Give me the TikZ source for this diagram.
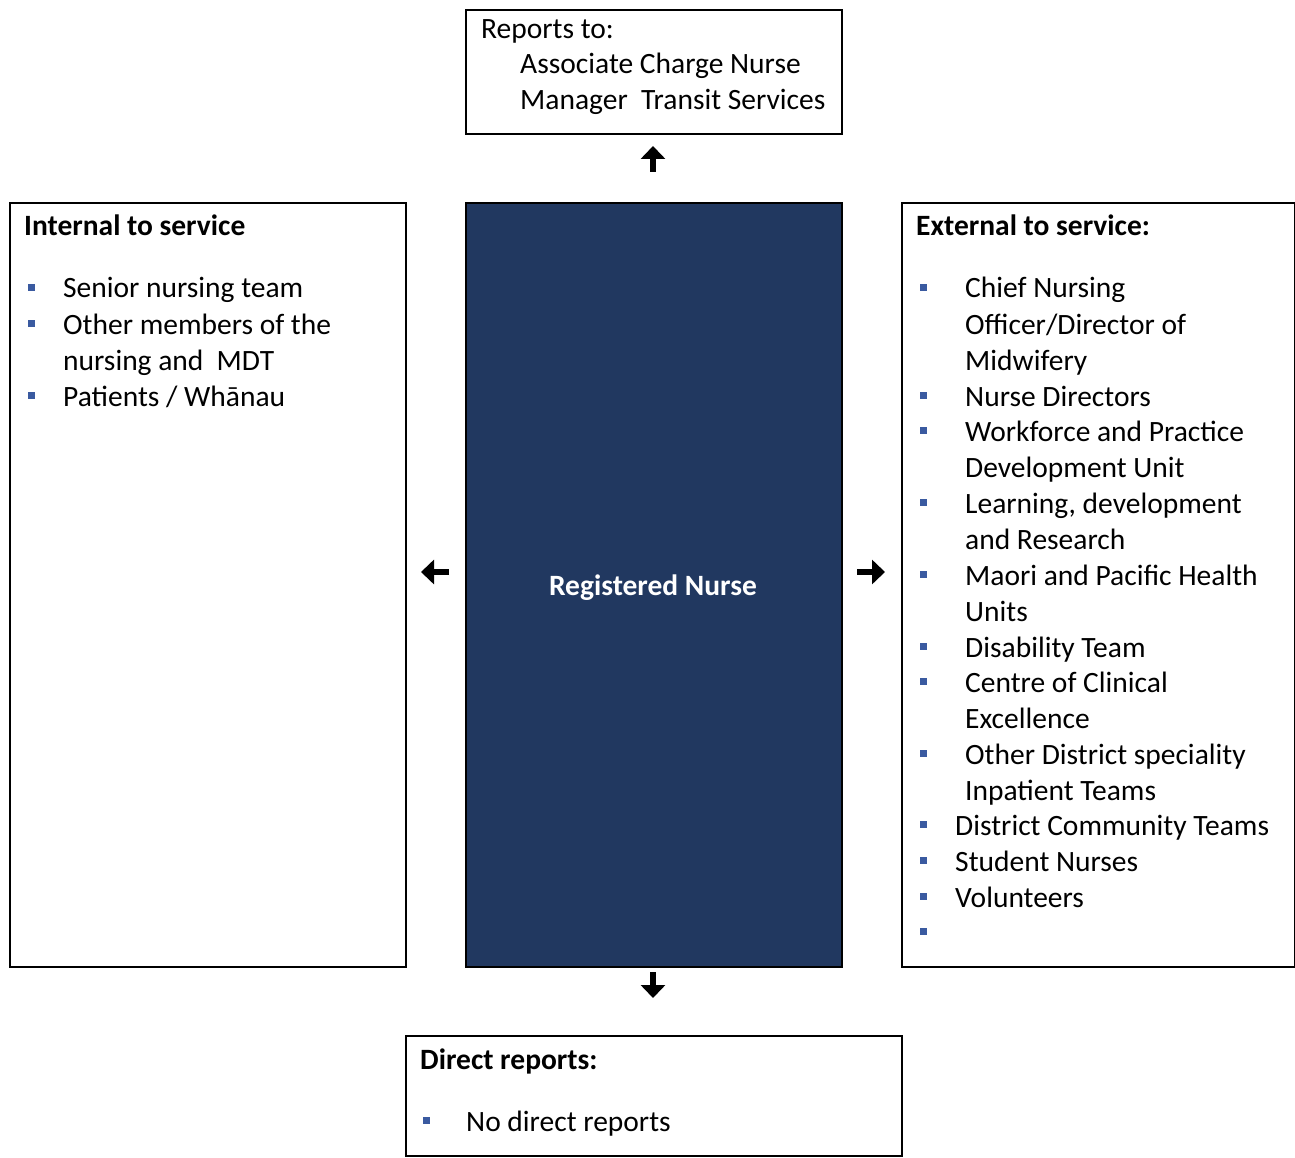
\documentclass[tikz,border=0pt]{standalone}
\usepackage{fontspec}
\setmainfont{Carlito}
\usetikzlibrary{arrows.meta}
\definecolor{navy}{RGB}{33,56,96}
\definecolor{bul}{RGB}{58,90,160}
\begin{document}
\begin{tikzpicture}[x=1pt,y=-1pt,
 box/.style={draw=black,line width=1.6pt,anchor=north west,inner sep=0pt},
 txt/.style={anchor=base west,inner sep=0pt,font=\fontsize{29.5}{36}\selectfont},
 hd/.style={anchor=base west,inner sep=0pt,font=\fontsize{29.5}{36}\selectfont\bfseries},
 bullet/.style={fill=bul,minimum size=7pt,inner sep=0pt,draw=none},
 arr/.style={line width=6pt,-{Triangle[length=13pt,width=24pt]}}]
\useasboundingbox (0,0) rectangle (1295,1158);
% boxes
\node[box,minimum width=376pt,minimum height=124pt] (top) at (465,9) {};
\node[box,minimum width=396pt,minimum height=764pt] (left) at (9,202) {};
\node[box,fill=navy,minimum width=376pt,minimum height=764pt] (center) at (465,202) {};
\node[box,minimum width=393pt,minimum height=764pt] (right) at (901,202) {};
\node[box,minimum width=496pt,minimum height=120pt] (bottom) at (405,1035) {};
% arrows
\coordinate (upS) at (653,172); \coordinate (upE) at (653,146);
\coordinate (lS) at (449,572); \coordinate (lE) at (421,572);
\coordinate (rS) at (857,572); \coordinate (rE) at (885,572);
\coordinate (dS) at (653,972); \coordinate (dE) at (653,998);
\draw[arr] (upS) -- (upE);
\draw[arr] (lS) -- (lE);
\draw[arr] (rS) -- (rE);
\draw[arr] (dS) -- (dE);
% top
\node[txt] (t1) at (481,39) {Reports to:};
\node[txt] (t2) at (520,74) {Associate Charge Nurse};
\node[txt] (t3) at (520,110) {Manager~ Transit Services};
% center
\node[font=\fontsize{29.5}{36}\selectfont\bfseries,text=white] (rn) at (653,588) {Registered Nurse};
% left
\node[hd] (lh) at (24,236) {Internal to service};
\node[bullet] (lb1) at (31.5,287) {};
\node[txt] (l1) at (63,298) {Senior nursing team};
\node[bullet] (lb2) at (31.5,323) {};
\node[txt] (l2) at (63,334) {Other members of the};
\node[txt] (l3) at (63,370) {nursing and~ MDT};
\node[bullet] (lb3) at (31.5,395) {};
\node[txt] (l4) at (63,406) {Patients / Whānau};
% right
\node[hd] (rh) at (916,236) {External to service:};
\node[bullet] (rb1) at (923,287) {};
\node[txt] (r1) at (965,298) {Chief Nursing};
\node[txt] (r2) at (965,334) {Officer/Director of};
\node[txt] (r3) at (965,370) {Midwifery};
\node[bullet] (rb2) at (923,395) {};
\node[txt] (r4) at (965,406) {Nurse Directors};
\node[bullet] (rb3) at (923,430) {};
\node[txt] (r5) at (965,441) {Workforce and Practice};
\node[txt] (r6) at (965,477) {Development Unit};
\node[bullet] (rb4) at (923,502) {};
\node[txt] (r7) at (965,513) {Learning, development};
\node[txt] (r8) at (965,549) {and Research};
\node[bullet] (rb5) at (923,574) {};
\node[txt] (r9) at (965,585) {Maori and Pacific Health};
\node[txt] (r10) at (965,621) {Units};
\node[bullet] (rb6) at (923,646) {};
\node[txt] (r11) at (965,657) {Disability Team};
\node[bullet] (rb7) at (923,681) {};
\node[txt] (r12) at (965,692) {Centre of Clinical};
\node[txt] (r13) at (965,728) {Excellence};
\node[bullet] (rb8) at (923,753) {};
\node[txt] (r14) at (965,764) {Other District speciality};
\node[txt] (r15) at (965,800) {Inpatient Teams};
\node[bullet] (rb9) at (923,824) {};
\node[txt] (r16) at (955,835) {District Community Teams};
\node[bullet] (rb10) at (923,860) {};
\node[txt] (r17) at (955,871) {Student Nurses};
\node[bullet] (rb11) at (923,896) {};
\node[txt] (r18) at (955,907) {Volunteers};
\node[bullet] (rb12) at (923,931) {};
% bottom
\node[hd] (bh) at (420,1069) {Direct reports:};
\node[bullet] (bb1) at (426,1120) {};
\node[txt] (b1) at (466,1131) {No direct reports};
\end{tikzpicture}
\end{document}
